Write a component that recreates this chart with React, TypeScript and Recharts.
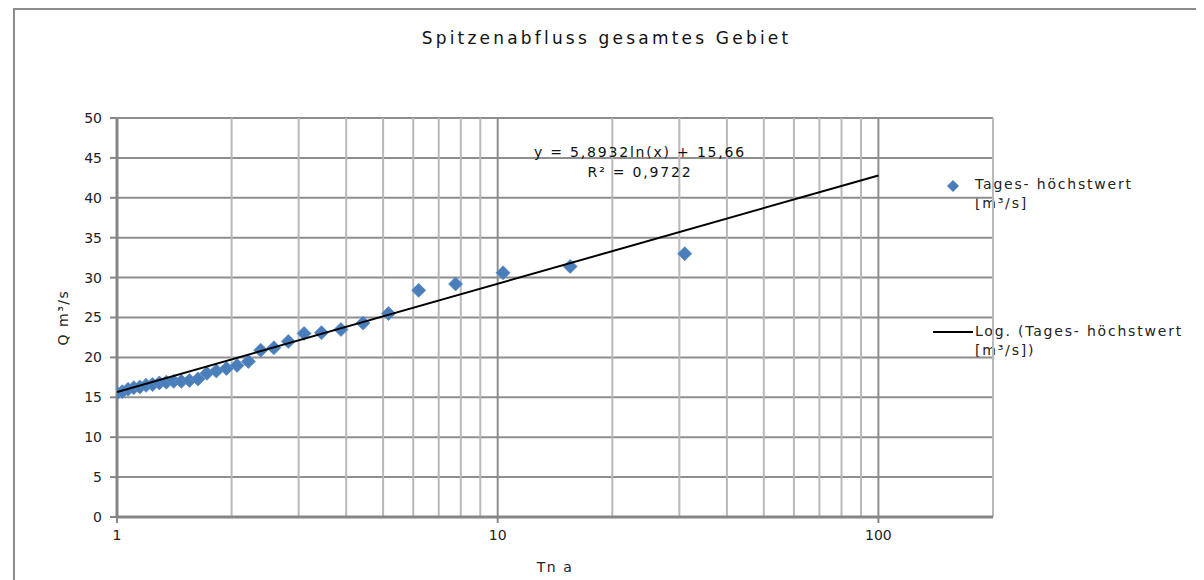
import React from "react";
import {
  ScatterChart,
  Scatter,
  XAxis,
  YAxis,
  CartesianGrid,
  ReferenceLine,
  Label,
} from "recharts";

// Jährlichkeit (Tn) und Tageshöchstwert Q [m³/s]
const returnPeriods = [
  1.0, 1.033, 1.069, 1.107, 1.148, 1.192, 1.24, 1.292, 1.348, 1.409, 1.476,
  1.55, 1.632, 1.722, 1.824, 1.938, 2.067, 2.214, 2.385, 2.583, 2.818, 3.1,
  3.444, 3.875, 4.429, 5.167, 6.2, 7.75, 10.33, 15.5, 31.0,
];
const peakFlows = [
  15.5, 15.7, 16.0, 16.2, 16.3, 16.5, 16.6, 16.8, 16.9, 17.0, 17.0, 17.1,
  17.3, 18.0, 18.3, 18.6, 19.0, 19.5, 20.9, 21.2, 22.0, 23.0, 23.1, 23.5,
  24.3, 25.5, 28.4, 29.2, 30.6, 31.4, 33.0,
];

// Log. Trendlinie y = 5,8932ln(x) + 15,66 (Endpunkte)
const trendX = [1, 100];
const trendY = [15.66, 42.8];

const xTicks = [1, 10, 100];
const yTicks = [0, 5, 10, 15, 20, 25, 30, 35, 40, 45, 50];
const minorGrid = [2, 3, 4, 5, 6, 7, 8, 9, 20, 30, 40, 50, 60, 70, 80, 90, 200];
const majorGrid = [10, 100];

const points = returnPeriods.map((x, i) => ({ x, y: peakFlows[i] }));
const trend = trendX.map((x, i) => ({ x, y: trendY[i] }));

const font = "DejaVu Sans, Verdana, sans-serif";
const blue = "#4a7ebb";

const Diamond = (props: any) => {
  const { cx, cy } = props;
  if (cx == null || cy == null) return null;
  const r = 7;
  return (
    <polygon
      points={`${cx},${cy - r} ${cx + r},${cy} ${cx},${cy + r} ${cx - r},${cy}`}
      fill={blue}
      stroke="#5b8cc8"
      strokeWidth={0.8}
    />
  );
};

const XTick = (props: any) => {
  const { x, y, payload } = props;
  return (
    <g>
      <line x1={x} y1={y - 8} x2={x} y2={y - 2} stroke="#868686" strokeWidth={2} />
      <text x={x} y={y + 15} textAnchor="middle" fontSize={14} fill="#222" fontFamily={font}>
        {payload.value}
      </text>
    </g>
  );
};

// Legende rechts neben dem Diagramm
const LegendBox = () => (
  <div
    style={{
      position: "absolute",
      left: 915,
      top: 167,
      width: 268,
      height: 200,
      fontFamily: font,
      fontSize: 14,
      color: "#222",
      letterSpacing: 1.8,
      whiteSpace: "nowrap",
    }}
  >
    <svg width={16} height={16} style={{ position: "absolute", left: 15, top: 1 }}>
      <polygon points="8,2 14,8 8,14 2,8" fill={blue} />
    </svg>
    <div style={{ position: "absolute", left: 45, top: -2, lineHeight: "19px" }}>
      Tages- höchstwert
      <br />
      [m³/s]
    </div>
    <svg width={40} height={6} style={{ position: "absolute", left: 3, top: 152 }}>
      <line x1={0} y1={3} x2={40} y2={3} stroke="#000" strokeWidth={2} />
    </svg>
    <div style={{ position: "absolute", left: 45, top: 145, lineHeight: "19px" }}>
      Log. (Tages- höchstwert
      <br />
      [m³/s])
    </div>
  </div>
);

export default function App() {
  return (
    <div
      style={{
        marginLeft: 5,
        width: 1183,
        height: 600,
        border: "2px solid #8c8c8c",
        position: "relative",
        background: "#fff",
        fontFamily: font,
      }}
    >
      <div
        style={{
          position: "absolute",
          left: 0,
          width: 1183,
          top: 18,
          textAlign: "center",
          fontSize: 17,
          letterSpacing: 3.2,
          color: "#111",
        }}
      >
        Spitzenabfluss gesamtes Gebiet
      </div>
      <div
        style={{
          position: "absolute",
          left: 470,
          width: 310,
          top: 132,
          textAlign: "center",
          fontSize: 14,
          letterSpacing: 1.8,
          lineHeight: "20px",
          color: "#111",
          zIndex: 2,
          whiteSpace: "nowrap",
        }}
      >
        y = 5,8932ln(x) + 15,66
        <br />
        R² = 0,9722
      </div>
      <LegendBox />
      <ScatterChart
        width={1183}
        height={570}
        margin={{ top: 108, right: 205, bottom: 33, left: 62 }}
      >
        <CartesianGrid vertical={false} stroke="#8e8e8e" strokeWidth={2} />
        <XAxis
          type="number"
          dataKey="x"
          scale="log"
          domain={[1, 200]}
          ticks={xTicks}
          interval={0}
          allowDataOverflow
          axisLine={{ stroke: "#868686", strokeWidth: 3 }}
          tickLine={false}
          tick={<XTick />}
          height={30}
        >
          <Label
            value="Tn a"
            position="bottom"
            offset={15}
            style={{ fontSize: 14, fill: "#222", fontFamily: font, letterSpacing: 1.5 }}
          />
        </XAxis>
        <YAxis
          type="number"
          dataKey="y"
          domain={[0, 50]}
          ticks={yTicks}
          interval={0}
          width={40}
          axisLine={{ stroke: "#868686", strokeWidth: 3 }}
          tickLine={{ stroke: "#868686", strokeWidth: 2 }}
          tickSize={7}
          tick={{ fontSize: 14, fill: "#222", fontFamily: font, dx: -6 }}
        >
          <Label
            value="Q m³/s"
            angle={-90}
            position="insideLeft"
            offset={-14}
            style={{ textAnchor: "middle", fontSize: 14, fill: "#222", fontFamily: font, letterSpacing: 1.5 }}
          />
        </YAxis>
        {minorGrid.map((v) => (
          <ReferenceLine key={"m" + v} x={v} stroke="#b9b9b9" strokeWidth={2} />
        ))}
        {majorGrid.map((v) => (
          <ReferenceLine key={"M" + v} x={v} stroke="#8e8e8e" strokeWidth={2} />
        ))}
        <Scatter
          name="Tages- höchstwert [m³/s]"
          data={points}
          shape={<Diamond />}
          isAnimationActive={false}
        />
        <Scatter
          name="Log. (Tages- höchstwert [m³/s])"
          data={trend}
          line={{ stroke: "#000", strokeWidth: 2 }}
          shape={() => <g />}
          isAnimationActive={false}
        />
      </ScatterChart>
    </div>
  );
}
